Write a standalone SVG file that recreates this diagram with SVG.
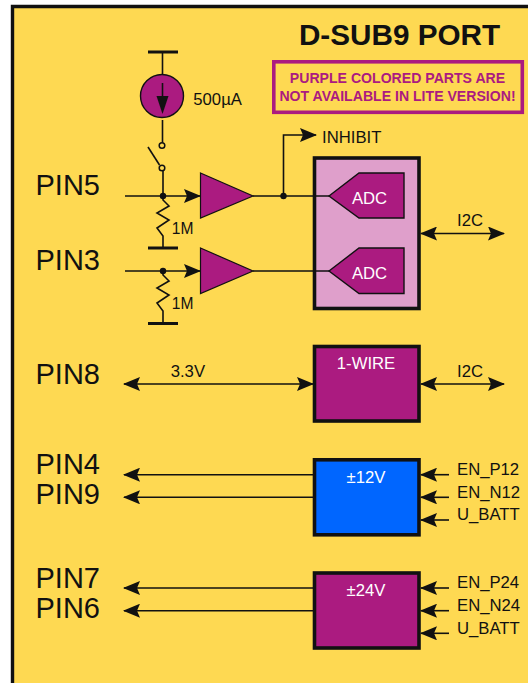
<svg xmlns="http://www.w3.org/2000/svg" width="528" height="683" viewBox="0 0 528 683">
<style>
text{font-family:"Liberation Sans",Arial,sans-serif;font-size:16.7px;fill:#111}
.pin{font-size:29px}
.w{fill:#fff}
.wire{fill:none;stroke:#111;stroke-width:1.6}
.bar{fill:none;stroke:#111;stroke-width:3}
.box{stroke:#111;stroke-width:3.6}
.pur{fill:#ab1b80}
.adc{fill:#ab1b80;stroke:#111;stroke-width:1.4}
.amp{fill:#ab1b80;stroke:#111;stroke-width:1.2}
.note{font-weight:bold;font-size:14.1px;fill:#ab1b80;text-anchor:middle}
.c{text-anchor:middle}
.open{fill:#fed952;stroke:#111;stroke-width:1.5}
.r{font-size:15.6px}
</style>
<defs>
<marker id="ah" markerUnits="userSpaceOnUse" viewBox="0 0 17 14" markerWidth="17" markerHeight="14" refX="16" refY="7" orient="auto-start-reverse"><path d="M0 0L17 7L0 14L3 7Z" fill="#111"/></marker>
</defs>
<rect width="528" height="683" fill="#fff"/>
<path d="M12.500 700V6.500H540V700Z" fill="#fed952" stroke="#111" stroke-width="3.400"/>

<g id="connectors">
<path class="wire" d="M162.500 52V74M162.500 120V142.500M163 171V196"/>
<path class="wire" d="M125 196H200" marker-end="url(#ah)"/>
<path class="wire" d="M125 271H200" marker-end="url(#ah)"/>
<path class="wire" d="M253 196H329M253 271H329"/>
<path class="wire" d="M283.500 196V135H316" marker-end="url(#ah)"/>
<path class="wire" d="M421 233.500H504" marker-start="url(#ah)" marker-end="url(#ah)"/>
<path class="wire" d="M124 384H313" marker-start="url(#ah)" marker-end="url(#ah)"/>
<path class="wire" d="M421 384H504" marker-start="url(#ah)" marker-end="url(#ah)"/>
<path class="wire" d="M313 474.700H124" marker-end="url(#ah)"/>
<path class="wire" d="M313 497.300H124" marker-end="url(#ah)"/>
<path class="wire" d="M313 588H124" marker-end="url(#ah)"/>
<path class="wire" d="M313 610.700H124" marker-end="url(#ah)"/>
<path class="wire" d="M449 474.700H421" marker-end="url(#ah)"/>
<path class="wire" d="M449 497.300H421" marker-end="url(#ah)"/>
<path class="wire" d="M449 520H421" marker-end="url(#ah)"/>
<path class="wire" d="M449 588H421" marker-end="url(#ah)"/>
<path class="wire" d="M449 610.700H421" marker-end="url(#ah)"/>
<path class="wire" d="M449 633.300H421" marker-end="url(#ah)"/>
<circle cx="163" cy="196" r="3.200" fill="#111"/>
<circle cx="163" cy="271" r="3.200" fill="#111"/>
<circle cx="283.500" cy="196" r="3.200" fill="#111"/>
</g>

<g id="title"><text x="399.500" y="44.500" class="c" style="font-size:29.700px;font-weight:bold">D-SUB9 PORT</text></g>
<g id="note">
<rect x="273.800" y="61.800" width="248.500" height="50.500" fill="none" stroke="#ab1b80" stroke-width="3.600"/>
<text class="note" x="397.500" y="82.700">PURPLE COLORED PARTS ARE</text>
<text class="note" x="397.500" y="100.500">NOT AVAILABLE IN LITE VERSION!</text>
</g>

<g id="source">
<path class="bar" d="M148 52H178"/>
<circle cx="162" cy="96" r="21.500" class="pur" stroke="#111" stroke-width="1.400"/>
<path class="wire" d="M162.500 83V100"/>
<path d="M156.500 96H168.500L162.500 114Z" fill="#111"/>
<text x="193.300" y="105">500µA</text>
</g>
<g id="switch">
<path class="wire" d="M148 147L159.500 165"/>
<circle class="open" cx="162" cy="145.500" r="2.800"/>
<circle class="open" cx="162" cy="168" r="2.800"/>
</g>
<g id="r1">
<path class="wire" d="M163 196V200L169 206L157 213L169 220L157 228L163 236V248"/>
<path class="bar" d="M148 248H178"/>
<text class="r" x="171.800" y="234">1M</text>
</g>
<g id="r2">
<path class="wire" d="M163 271V275L169 281L157 288L169 295L157 303L163 311V323.500"/>
<path class="bar" d="M148 323.500H178"/>
<text class="r" x="171.800" y="309">1M</text>
</g>
<g id="pin5"><text class="pin" x="35.500" y="195">PIN5</text></g>
<g id="pin3"><text class="pin" x="35.500" y="270">PIN3</text></g>
<g id="pin8"><text class="pin" x="35.500" y="384">PIN8</text></g>
<g id="pin4"><text class="pin" x="35.500" y="474">PIN4</text></g>
<g id="pin9"><text class="pin" x="35.500" y="504">PIN9</text></g>
<g id="pin7"><text class="pin" x="35.500" y="588">PIN7</text></g>
<g id="pin6"><text class="pin" x="35.500" y="618">PIN6</text></g>
<g id="amp1"><path class="amp" d="M200.500 173L253 196L200.500 218Z"/></g>
<g id="amp2"><path class="amp" d="M200.500 248L253 271L200.500 293.500Z"/></g>
<g id="adc-block"><rect class="box" x="314.500" y="158" width="104.500" height="150.500" fill="#df9fcb"/>
<path class="wire" d="M314 196H329M314 271H329"/></g>
<g id="adc1"><path class="adc" d="M329 196L359 173H404V218H359Z"/><text class="c w" x="369.500" y="203.500">ADC</text></g>
<g id="adc2"><path class="adc" d="M329 271L359 248H404V293.500H359Z"/><text class="c w" x="369.500" y="278.500">ADC</text></g>
<g id="one-wire"><rect class="box pur" x="314.500" y="346.500" width="104.500" height="74.500"/><text class="c w" x="366" y="369">1-WIRE</text></g>
<g id="p12"><rect class="box" x="314.500" y="459.800" width="104.500" height="75" fill="#0066ff"/><text class="c w" x="366" y="482.500">±12V</text></g>
<g id="p24"><rect class="box pur" x="314.500" y="573" width="104.500" height="75"/><text class="c w" x="366" y="596">±24V</text></g>
<g id="labels">
<text x="322" y="142.500">INHIBIT</text>
<text x="457" y="226">I2C</text>
<text x="457" y="377">I2C</text>
<text x="170.700" y="376.700">3.3V</text>
<text x="457" y="475">EN_P12</text>
<text x="457" y="497.700">EN_N12</text>
<text x="457" y="520.300">U_BATT</text>
<text x="457" y="588.300">EN_P24</text>
<text x="457" y="611">EN_N24</text>
<text x="457" y="633.600">U_BATT</text>
</g>
</svg>
